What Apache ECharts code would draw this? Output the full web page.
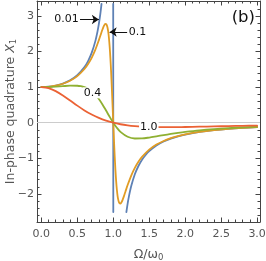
<!DOCTYPE html>
<html><head><meta charset="utf-8">
<script src="https://cdn.jsdelivr.net/npm/echarts@6/dist/echarts.min.js"></script>
<style>html,body{margin:0;padding:0;background:#fff}#c{width:266px;height:261px}</style>
</head><body><div id="c"></div>
<script>
// Damping parameters (series names)
const dampings = ['0.01', '0.1', '0.4', '1.0'];
// gamma = 0.01 (three visible pieces, clipped at the plot range)
const blueLeft = [[0,1],[0.1,1.0101],[0.2,1.0417],[0.3,1.0989],[0.4,1.1905],[0.5,1.3333],[0.6,1.5625],[0.65,1.7316],[0.7,1.9608],[0.75,2.2857],[0.78,2.5536],[0.8,2.7778],[0.82,3.0525],[0.837,3.34]];
const blueMid = [[0.9993,3.34],[1.0007,-2.51]];
const blueRight = [[1.1825,-2.51],[1.2,-2.2727],[1.22,-2.0475],[1.25,-1.7778],[1.3,-1.4493],[1.35,-1.2158],[1.4,-1.0417],[1.45,-0.907],[1.5,-0.8],[1.6,-0.641],[1.7,-0.5291],[1.8,-0.4464],[1.9,-0.3831],[2.0,-0.3333],[2.2,-0.2604],[2.4,-0.2101],[2.6,-0.1736],[2.8,-0.1462],[3.0,-0.125]];
// gamma = 0.1
const orange = [[0,1],[0.1,1.0097],[0.2,1.0399],[0.3,1.0941],[0.4,1.1798],[0.5,1.31],[0.6,1.5094],[0.65,1.6481],[0.7,1.8234],[0.75,2.0453],[0.8,2.3196],[0.83,2.502],[0.85,2.6202],[0.86,2.6738],[0.87,2.7199],[0.88,2.7553],[0.89,2.7757],[0.9,2.7737],[0.91,2.7429],[0.92,2.6737],[0.93,2.5563],[0.94,2.3808],[0.95,2.1377],[0.96,1.8228],[0.97,1.4369],[0.98,0.9903],[0.99,0.5025],[1.0,0],[1.01,-0.4879],[1.02,-0.9341],[1.03,-1.3196],[1.04,-1.6346],[1.05,-1.8769],[1.06,-2.0525],[1.07,-2.1692],[1.08,-2.2381],[1.09,-2.269],[1.1,-2.2703],[1.11,-2.2501],[1.12,-2.2141],[1.13,-2.1675],[1.15,-2.0553],[1.17,-1.933],[1.2,-1.7516],[1.25,-1.4845],[1.3,-1.2691],[1.35,-1.0976],[1.4,-0.96],[1.5,-0.7564],[1.6,-0.6151],[1.7,-0.5125],[1.8,-0.4352],[1.9,-0.3752],[2.0,-0.3275],[2.2,-0.257],[2.4,-0.208],[2.6,-0.1722],[2.8,-0.1452],[3.0,-0.1243]];
// gamma = 0.4
const green = [[0,1],[0.1,1.0036],[0.2,1.0135],[0.3,1.0274],[0.4,1.0396],[0.5,1.0381],[0.55,1.0256],[0.6,1.0],[0.65,0.9563],[0.7,0.889],[0.75,0.7934],[0.8,0.6677],[0.85,0.5145],[0.9,0.3426],[0.95,0.1661],[1.0,0],[1.05,-0.1431],[1.1,-0.2566],[1.2,-0.3945],[1.3,-0.443],[1.4,-0.4412],[1.5,-0.4163],[1.6,-0.3831],[1.7,-0.3486],[1.8,-0.3159],[1.9,-0.2861],[2.0,-0.2595],[2.2,-0.2152],[2.4,-0.1807],[2.6,-0.1536],[2.8,-0.132],[3.0,-0.1147]];
// gamma = 1.0
const red = [[0,1],[0.1,0.9705],[0.2,0.8876],[0.3,0.7659],[0.4,0.6243],[0.5,0.48],[0.6,0.346],[0.7,0.2297],[0.8,0.1338],[0.9,0.058],[1.0,0],[1.1,-0.043],[1.2,-0.0739],[1.3,-0.0954],[1.4,-0.1096],[1.5,-0.1183],[1.6,-0.1231],[1.7,-0.1249],[1.8,-0.1246],[1.9,-0.1228],[2.0,-0.12],[2.2,-0.1126],[2.4,-0.1042],[2.6,-0.0957],[2.8,-0.0875],[3.0,-0.08]];
// Ticks
const xMajor = [0, 0.5, 1, 1.5, 2, 2.5, 3];
const xTickLabels = ['0.0', '0.5', '1.0', '1.5', '2.0', '2.5', '3.0'];
const xMinor = [0.1,0.2,0.3,0.4,0.6,0.7,0.8,0.9,1.1,1.2,1.3,1.4,1.6,1.7,1.8,1.9,2.1,2.2,2.3,2.4,2.6,2.7,2.8,2.9];
const yMajor = [-2, -1, 0, 1, 2, 3];
const yTickLabels = ['\u22122', '\u22121', '0', '1', '2', '3'];
const yMinor = [-2.6,-2.4,-2.2,-1.8,-1.6,-1.4,-1.2,-0.8,-0.6,-0.4,-0.2,0.2,0.4,0.6,0.8,1.2,1.4,1.6,1.8,2.2,2.4,2.6,2.8,3.2,3.4];
// Annotation anchors (data coordinates)
const arrow001 = [[0.538, 2.9], [0.8, 2.9]];
const text001 = [0.35, 2.9];
const arrow01 = [[1.193, 2.55], [0.95, 2.55]];
const text01 = [1.338, 2.55];
const label04 = [0.712, 0.84];
const label10 = [1.494, -0.126];

const FONT = 'DejaVu Sans';
const FRAME = '#444';
const TXT = '#555';
const C = ['#5E81B5', '#E19C24', '#8FB032', '#EB6235'];
const X_RANGE = [-0.06, 3.04];
const Y_RANGE = [-2.79, 3.42];

function xAx(pos, vals, len, labels, line) {
  return {type:'value', min:X_RANGE[0], max:X_RANGE[1], position:pos, nameMoveOverlap:false,
    axisLine:{show:line, onZero:false, lineStyle:{color:FRAME, width:1}},
    axisTick:{show:true, inside:true, length:len, customValues:vals, lineStyle:{color:FRAME}},
    axisLabel:{show:labels, customValues:vals, margin:7, color:TXT, fontFamily:FONT, fontSize:11,
      formatter:v=>{const i=xMajor.findIndex(t=>Math.abs(t-v)<1e-6);return i>=0?xTickLabels[i]:'';}},
    splitLine:{show:false}};
}
function yAx(pos, vals, len, labels, line) {
  return {type:'value', min:Y_RANGE[0], max:Y_RANGE[1], position:pos, nameMoveOverlap:false,
    axisLine:{show:line, onZero:false, lineStyle:{color:FRAME, width:1}},
    axisTick:{show:true, inside:true, length:len, customValues:vals, lineStyle:{color:FRAME}},
    axisLabel:{show:labels, customValues:vals, margin:3, color:TXT, fontFamily:FONT, fontSize:11,
      formatter:v=>{const i=yMajor.findIndex(t=>Math.abs(t-v)<1e-6);return i>=0?yTickLabels[i]:'';}},
    splitLine:{show:false}};
}

const xAxes = [xAx('bottom', xMajor, 4.5, true, true), xAx('bottom', xMinor, 2.5, false, false), xAx('top', xMajor, 4.5, false, true), xAx('top', xMinor, 2.5, false, false)];
xAxes[0].name = '{a|\u03A9/\u03C9}{s|0}';
xAxes[0].nameLocation = 'middle';
xAxes[0].nameGap = 25;
xAxes[0].nameTextStyle = {color:TXT, fontFamily:FONT, fontSize:12.5, rich:{a:{fontFamily:FONT, fontSize:12.5, color:TXT}, s:{fontFamily:FONT, fontSize:8.5, color:TXT, verticalAlign:'bottom', padding:[6,0,0,0]}}};
const yAxes = [yAx('left', yMajor, 4.5, true, true), yAx('left', yMinor, 2.5, false, false), yAx('right', yMajor, 4.5, false, true), yAx('right', yMinor, 2.5, false, false)];
yAxes[0].name = 'In-phase quadrature {x|X}{s|1}';
yAxes[0].nameLocation = 'middle';
yAxes[0].nameGap = 19;
yAxes[0].nameRotate = 90;
yAxes[0].nameTextStyle = {color:TXT, fontFamily:FONT, fontSize:12.5, rich:{x:{fontFamily:FONT, fontSize:12.5, fontStyle:'italic', color:TXT}, s:{fontFamily:FONT, fontSize:8.5, color:TXT, verticalAlign:'bottom', padding:[6,0,0,0]}}};

function line(data, color, extra) {
  return Object.assign({type:'line', data:data, xAxisIndex:0, yAxisIndex:0, showSymbol:false, symbol:'none',
    smooth:0.3, clip:true, silent:true,
    lineStyle:{color:color, width:1.8, join:'round', cap:'round'}, itemStyle:{color:color}}, extra||{});
}
function textMark(coord, text, bg) {
  return {coord:coord, symbol:'rect', symbolSize:1, itemStyle:{color:'rgba(0,0,0,0)'},
    label:{show:true, position:'inside', formatter:text, color:'#111', fontFamily:FONT, fontSize:11,
      backgroundColor:bg||'transparent', padding:bg?[0,1,0,1]:0}};
}
const arrowLine = (a) => [{coord:a[0]}, {coord:a[1]}];

const option = {
  animation:false,
  backgroundColor:'#fff',
  grid:{left:37, right:6, top:1, bottom:39, containLabel:false, outerBoundsMode:'none'},
  xAxis:xAxes,
  yAxis:yAxes,
  graphic:[{type:'text', right:11, top:9, style:{text:'(b)', font:'16.5px "DejaVu Sans"', fill:'#111'}}],
  series:[
    line(blueLeft, C[0], {name:dampings[0], z:2,
      markLine:{silent:true, symbol:['none','arrow'], symbolSize:7, label:{show:false}, lineStyle:{color:'#111', width:1, type:'solid'}, itemStyle:{color:'#111'},
        data:[arrowLine(arrow001), arrowLine(arrow01)]},
      markPoint:{silent:true, data:[textMark(text001, dampings[0]), textMark(text01, dampings[1])]}}),
    line(blueMid, C[0], {name:dampings[0], smooth:false, z:2}),
    line(blueRight, C[0], {name:dampings[0], z:2}),
    line(orange, C[1], {name:dampings[1], z:2}),
    line(green, C[2], {name:dampings[2], z:2, markPoint:{silent:true, data:[textMark(label04, dampings[2], '#fff')]}}),
    line(red, C[3], {name:dampings[3], z:2, markPoint:{silent:true, data:[textMark(label10, dampings[3], '#fff')]},
      markLine:{silent:true, symbol:'none', label:{show:false}, z:1, lineStyle:{color:'#cccccc', width:1, type:'solid'}, data:[{yAxis:0}]}})
  ]
};
const chart = echarts.init(document.getElementById('c'), null, {renderer:'canvas'});
chart.setOption(option);
</script></body></html>
